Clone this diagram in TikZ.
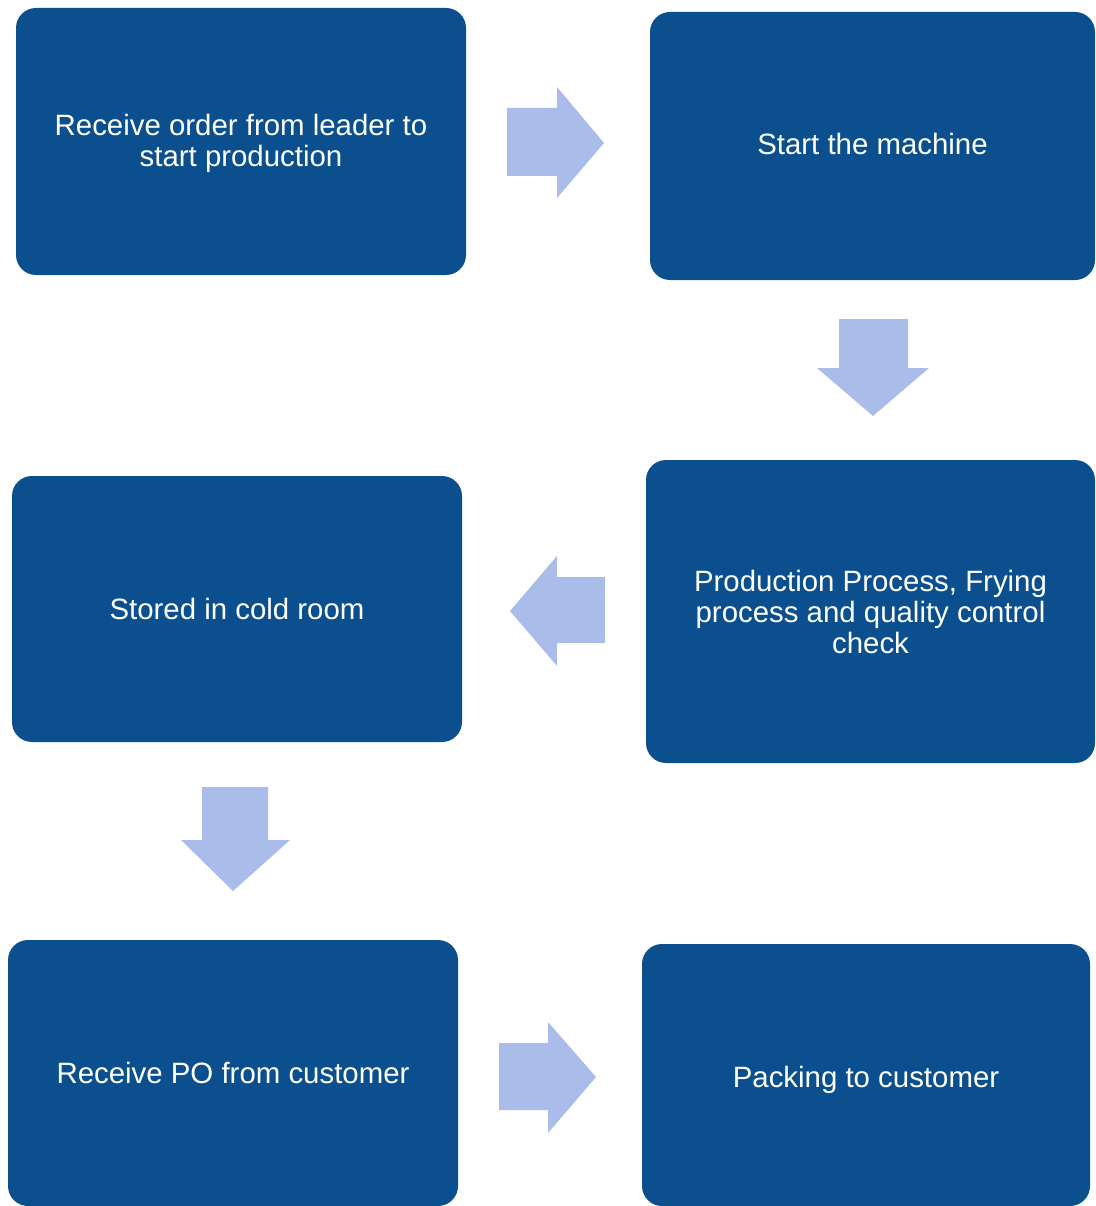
\documentclass[tikz,border=0pt]{standalone}
\usepackage{fontspec}
\setmainfont{Liberation Sans}
\definecolor{boxblue}{HTML}{0B4F8F}
\definecolor{arrowblue}{HTML}{A9BCEA}
\begin{document}
\begin{tikzpicture}[x=1pt,y=-1pt,
  stepbox/.style={draw=none, fill=boxblue, rounded corners=20pt, text=white,
    align=center, inner sep=0pt,
    font=\fontsize{29.4}{31}\selectfont},
  boxtext/.style={text=white, align=center, inner sep=0pt,
    font=\fontsize{29.4}{31}\selectfont},
  blockarrow/.style={fill=arrowblue, draw=none}]
\useasboundingbox (0,0) rectangle (1095,1206);
\node[stepbox, minimum width=450pt, minimum height=267pt] (b1) at (241,141.5) {};
\node[boxtext] (t1) at ([yshift=-2pt]b1.center) {Receive order from leader to\\start production};
\node[stepbox, minimum width=445pt, minimum height=268pt] (b2) at (872.5,146) {};
\node[boxtext] (t2) at ([yshift=2pt]b2.center) {Start the machine};
\node[stepbox, minimum width=449pt, minimum height=303pt] (b3) at (870.5,611.5)
  {Production Process, Frying\\process and quality control\\check};
\node[stepbox, minimum width=450pt, minimum height=266pt] (b4) at (237,609)
  {Stored in cold room};
\node[stepbox, minimum width=450pt, minimum height=266pt] (b5) at (233,1073)
  {Receive PO from customer};
\node[stepbox, minimum width=448pt, minimum height=262pt] (b6) at (866,1075) {};
\node[boxtext] (t6) at ([yshift=-5pt]b6.center) {Packing to customer};
% block arrows
\fill[blockarrow] (507,108) -- (557,108) -- (557,87) -- (604,143) -- (557,198) -- (557,176) -- (507,176) -- cycle;
\fill[blockarrow] (839,319) -- (908,319) -- (908,368) -- (929,368) -- (873,416) -- (817,368) -- (839,368) -- cycle;
\fill[blockarrow] (605,577) -- (557,577) -- (557,556) -- (510,611) -- (557,666) -- (557,643) -- (605,643) -- cycle;
\fill[blockarrow] (202,787) -- (268,787) -- (268,840) -- (290,840) -- (233,891) -- (181,840) -- (202,840) -- cycle;
\fill[blockarrow] (499,1043) -- (548,1043) -- (548,1022) -- (596,1077) -- (548,1133) -- (548,1110) -- (499,1110) -- cycle;
\end{tikzpicture}
\end{document}
